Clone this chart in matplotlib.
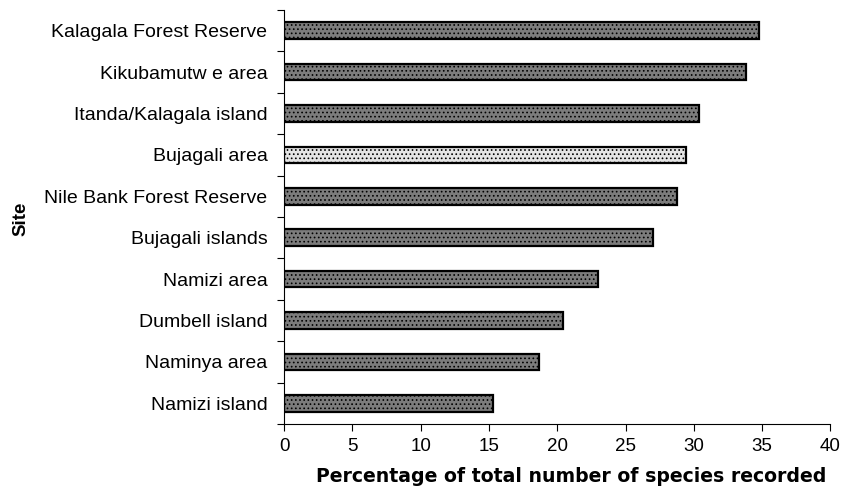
import matplotlib
matplotlib.use("Agg")
import matplotlib.pyplot as plt
import numpy as np

sites = [
    "Kalagala Forest Reserve",
    "Kikubamutw e area",
    "Itanda/Kalagala island",
    "Bujagali area",
    "Nile Bank Forest Reserve",
    "Bujagali islands",
    "Namizi area",
    "Dumbell island",
    "Naminya area",
    "Namizi island",
]
percent = [34.8, 33.8, 30.4, 29.4, 28.8, 27.0, 23.0, 20.4, 18.7, 15.3]
xticks = [0, 5, 10, 15, 20, 25, 30, 35, 40]

plt.rcParams["font.family"] = ["Liberation Sans", "DejaVu Sans"]
plt.rcParams["hatch.color"] = "#f0f0f0"
plt.rcParams["hatch.linewidth"] = 0.7

fig = plt.figure(figsize=(8.43, 5.0), dpi=100)
ax = fig.add_axes([0.337, 0.152, 0.648, 0.828])

n = len(sites)
ypos = np.arange(n)[::-1]
fills = ["#e4e4e4" if s == "Bujagali area" else "#7c7c7c" for s in sites]
ax.barh(ypos, percent, height=0.4, color=fills, edgecolor="black",
        linewidth=1.6, hatch="....")

ax.set_xlim(0, 40)
ax.set_ylim(-0.5, n - 0.5)
ax.set_xticks(xticks)
ax.set_xticklabels([str(t) for t in xticks], fontsize=13.5)

# category labels centred on bars, tick marks between categories
ax.set_yticks(ypos)
ax.set_yticklabels(sites, fontsize=14)
ax.tick_params(axis="y", which="major", length=0, pad=12)
ax.set_yticks(np.arange(-0.5, n, 1.0), minor=True)
ax.tick_params(axis="y", which="minor", length=5, direction="out", width=0.8)
ax.tick_params(axis="x", length=5, direction="out", width=0.8, pad=5)

for side in ("top", "right"):
    ax.spines[side].set_visible(False)
for side in ("left", "bottom"):
    ax.spines[side].set_linewidth(0.8)

fig.text(571 / 843, 1 - 476 / 500,
         "Percentage of total number of species recorded",
         fontsize=13.6, fontweight="bold", family="DejaVu Sans",
         ha="center", va="center")
fig.text(21 / 843, 1 - 219 / 500, "Site", fontsize=13.5, fontweight="bold",
         rotation=90, ha="center", va="center")

fig.savefig("out.png", dpi=100)
